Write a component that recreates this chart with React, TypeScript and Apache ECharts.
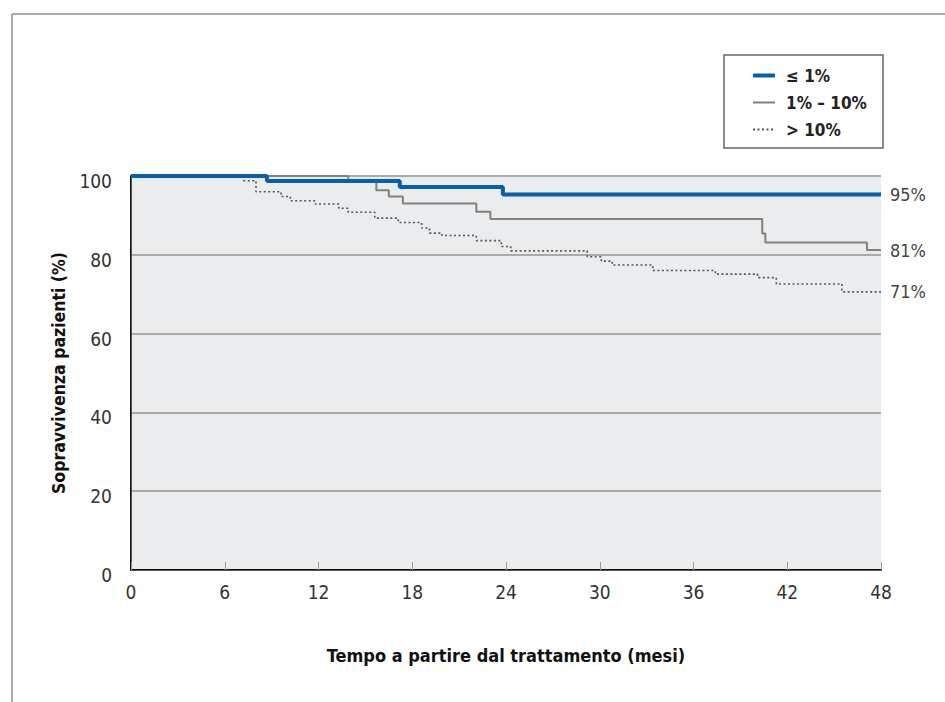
import React, { useEffect, useRef } from "react";
import * as echarts from "echarts";

// Kaplan-Meier curves (month, survival %)
const seriesNames = ["≤ 1%", "1% – 10%", "> 10%"];

const lowMonths = [0, 8.7, 17.2, 23.8, 48];
const lowValues = [100, 98.7, 97.2, 95.3, 95.3];

const midMonths = [0, 13.9, 15.7, 16.5, 17.4, 22.1, 23.0, 40.4, 40.6, 47.1, 48];
const midValues = [100, 98.8, 96.4, 94.8, 93.0, 90.9, 89.1, 85.4, 83.1, 81.2, 81.2];

const highMonths = [0, 7.2, 8.0, 9.6, 10.2, 11.8, 13.3, 13.9, 15.6, 17.1, 18.6, 19.1, 19.9, 22.1, 23.7, 24.3, 29.2, 30.1, 30.8, 33.4, 37.4, 40.1, 41.3, 45.5, 48];
const highValues = [100, 98.8, 96.0, 94.8, 93.7, 92.9, 91.8, 90.8, 89.3, 88.2, 86.8, 85.5, 84.9, 83.6, 82.1, 81.0, 79.5, 78.4, 77.4, 76.0, 75.1, 74.2, 72.6, 70.6, 70.6];

const xTicks = [0, 6, 12, 18, 24, 30, 36, 42, 48];
const yTicks = [0, 20, 40, 60, 80, 100];

const xTitle = "Tempo a partire dal trattamento (mesi)";
const yTitle = "Sopravvivenza pazienti (%)";

const NARROW = '"Liberation Sans Narrow", "DejaVu Sans Condensed", "Roboto", sans-serif';

const zip = (a: number[], b: number[]) => a.map((t, i) => [t, b[i]]);

export default function App() {
  const ref = useRef<HTMLDivElement>(null);
  useEffect(() => {
    if (!ref.current) return;
    const chart = echarts.init(ref.current, null, { renderer: "svg" });
    const endLabel = {
      show: true,
      formatter: (p: any) => Math.round(p.value[1]) + "%",
      color: "#444",
      fontSize: 18,
      fontFamily: NARROW,
      distance: 9,
    };
    chart.setOption({
      animation: false,
      backgroundColor: "#fff",
      grid: { left: 131, right: 64, top: 176, bottom: 132, show: true, backgroundColor: "#ebecee", borderWidth: 0 },
      legend: {
        orient: "vertical",
        left: 746,
        top: 62,
        itemWidth: 22,
        itemHeight: 17,
        itemGap: 10,
        data: [
          { name: seriesNames[0], lineStyle: { width: 4 } },
          { name: seriesNames[1] },
          { name: seriesNames[2] },
        ],
        itemStyle: { opacity: 0 },
        textStyle: { fontFamily: NARROW, fontWeight: "bold", fontSize: 17, color: "#222", lineHeight: 17, padding: [0, 0, 0, 6] },
      },
      graphic: [
        { type: "rect", shape: { x: 724, y: 55, width: 159, height: 93 }, style: { fill: "none", stroke: "#666", lineWidth: 1.5 }, z: 10 },
        { type: "line", shape: { x1: 12, y1: 14, x2: 945, y2: 14 }, style: { stroke: "#aaa", lineWidth: 2 } },
        { type: "line", shape: { x1: 12, y1: 14, x2: 12, y2: 702 }, style: { stroke: "#aaa", lineWidth: 2 } },
      ],
      xAxis: [
        {
          type: "value",
          min: 0,
          max: 48,
          interval: 6,
          name: xTitle,
          nameLocation: "middle",
          nameGap: 76,
          nameTextStyle: { fontFamily: NARROW, fontWeight: "bold", fontSize: 18, color: "#111" },
          axisLine: { lineStyle: { color: "#111", width: 2 } },
          axisTick: { show: true, inside: true, length: 8, lineStyle: { color: "#999", width: 1 } },
          axisLabel: { fontFamily: NARROW, fontSize: 19, color: "#333", margin: 12, formatter: (v: number) => (xTicks.includes(v) ? String(v) : "") },
          splitLine: { show: false },
        },
        {
          type: "value",
          position: "top",
          min: 0,
          max: 48,
          interval: 6,
          axisLine: { show: true, lineStyle: { color: "#555", width: 1 } },
          axisTick: { show: false },
          axisLabel: { show: false },
          splitLine: { show: false },
        },
      ],
      yAxis: [
        {
          type: "value",
          min: 0,
          max: 100,
          interval: 20,
          name: yTitle,
          nameLocation: "middle",
          nameGap: 62,
          nameTextStyle: { fontFamily: NARROW, fontWeight: "bold", fontSize: 17.5, color: "#111" },
          axisLine: { show: true, lineStyle: { color: "#111", width: 2 } },
          axisTick: { show: false },
          axisLabel: { fontFamily: NARROW, fontSize: 19, color: "#333", margin: 19, verticalAlign: "top", lineHeight: 10, formatter: (v: number) => (yTicks.includes(v) ? String(v) : "") },
          splitLine: { show: true, lineStyle: { color: "#aaa", width: 2 } },
        },
        {
          type: "value",
          position: "right",
          min: 0,
          max: 100,
          interval: 20,
          axisLine: { show: true, lineStyle: { color: "#555", width: 1 } },
          axisTick: { show: false },
          axisLabel: { show: false },
          splitLine: { show: false },
        },
      ],
      series: [
        {
          name: seriesNames[2],
          type: "line",
          step: "end",
          symbol: "none",
          data: zip(highMonths, highValues),
          lineStyle: { color: "#555", width: 1.6, type: [2, 2.5] },
          itemStyle: { color: "#555", opacity: 0 },
          endLabel,
          z: 3,
        },
        {
          name: seriesNames[1],
          type: "line",
          step: "end",
          symbol: "none",
          data: zip(midMonths, midValues),
          lineStyle: { color: "#808080", width: 2 },
          itemStyle: { color: "#808080", opacity: 0 },
          endLabel,
          z: 4,
        },
        {
          name: seriesNames[0],
          type: "line",
          step: "end",
          symbol: "none",
          data: zip(lowMonths, lowValues),
          lineStyle: { color: "#0b5fa8", width: 4 },
          itemStyle: { color: "#0b5fa8", opacity: 0 },
          endLabel,
          z: 5,
        },
      ],
    });
    return () => chart.dispose();
  }, []);
  return <div ref={ref} style={{ position: "fixed", left: 0, top: 0, width: 945, height: 702 }} />;
}
